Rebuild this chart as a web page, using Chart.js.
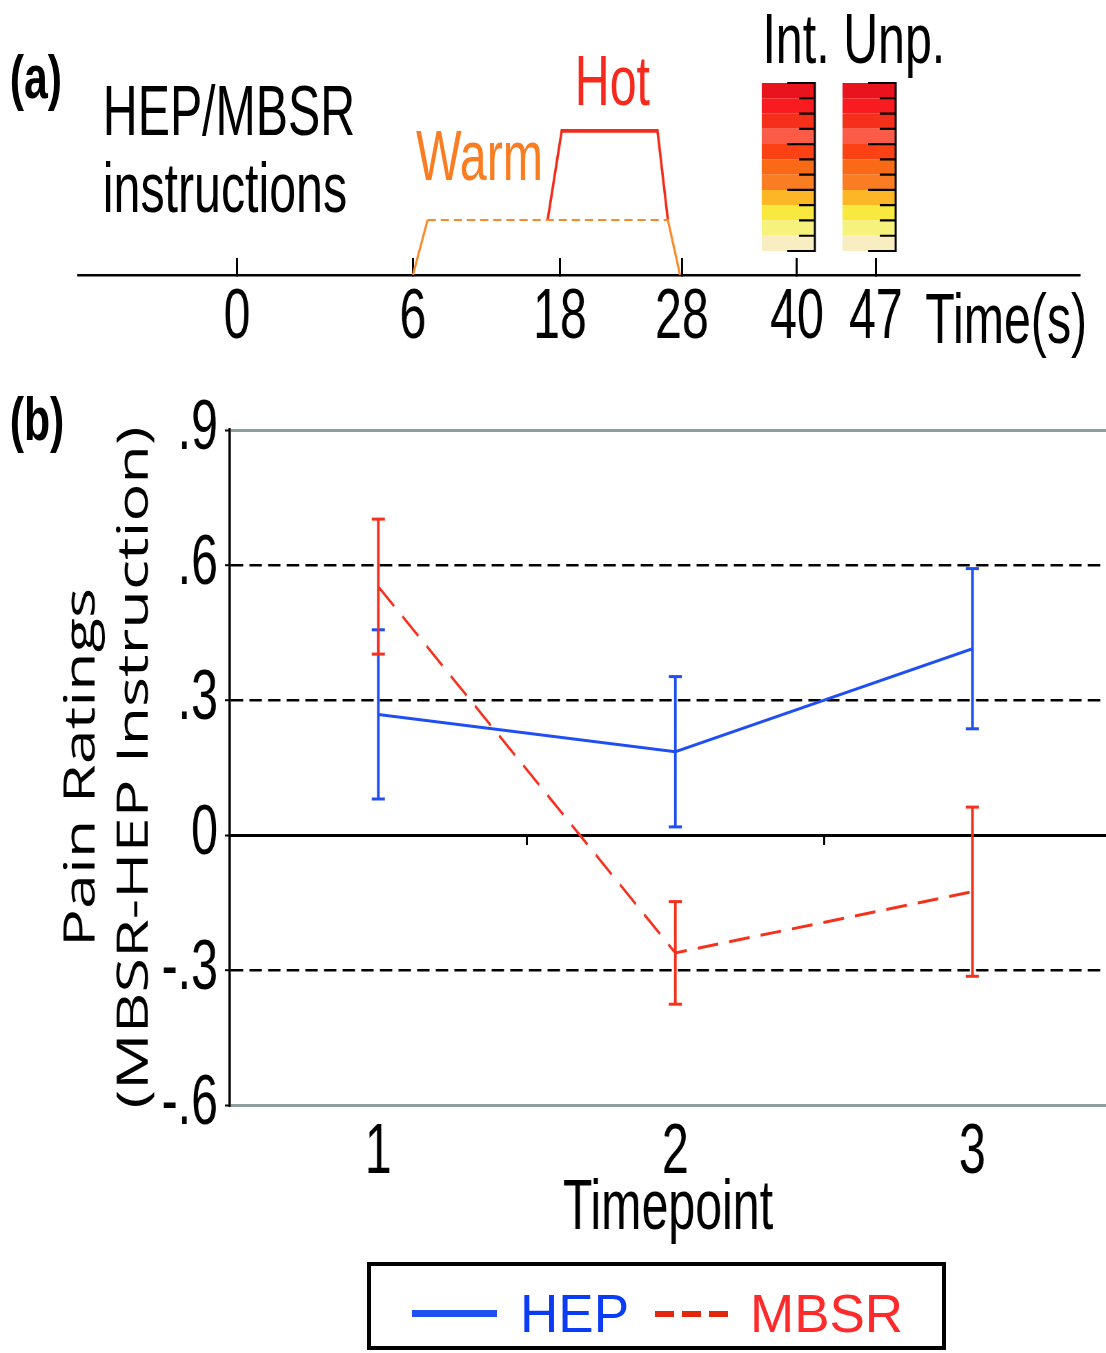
<!DOCTYPE html>
<html>
<head>
<meta charset="utf-8">
<title>HEP vs MBSR pain ratings</title>
<script src="https://cdn.jsdelivr.net/npm/chart.js@4.4.1/dist/chart.umd.min.js"></script>
<style>
  html, body { margin: 0; padding: 0; background: #fff; overflow: hidden; }
  /* the whole figure is drawn wide and squeezed sideways, like the original */
  #page { position: relative; width: 1603px; height: 1353px; transform: scaleX(0.69); transform-origin: 0 0; }
  #page canvas { position: absolute; left: 0; }
  .lbl { position: absolute; font-family: 'Liberation Sans', Arial, sans-serif; font-size: 70px; line-height: 1; white-space: nowrap; color: #000; }
  .panel { font-weight: bold; font-size: 62px; }
  #legend { position: absolute; left: 367px; top: 1262px; width: 579px; height: 88px; box-sizing: border-box; border: 4px solid #000; font-family: 'Liberation Sans', Arial, sans-serif; }
  #legend > * { position: absolute; }
  #legend span { font-size: 53px; line-height: 1; white-space: nowrap; }
</style>
</head>
<body>
<div id="page">
  <canvas id="timeline" width="1603" height="360" style="top:0;width:1603px;height:360px"></canvas>
  <canvas id="ratings" width="1603" height="895" style="top:360px;width:1603px;height:895px"></canvas>

  <div class="lbl panel" style="left:14px;top:46px">(a)</div>
  <div class="lbl panel" style="left:14px;top:388px">(b)</div>
  <div class="lbl" style="left:149px;top:76px">HEP/MBSR</div>
  <div class="lbl" style="left:149px;top:153px">instructions</div>
  <div class="lbl" style="left:603px;top:121px;color:#fa7d22">Warm</div>
  <div class="lbl" style="left:833px;top:46px;color:#f5291c">Hot</div>
  <div class="lbl" style="left:1105px;top:4px">Int.</div>
  <div class="lbl" style="left:1222px;top:4px">Unp.</div>
  <div class="lbl" style="left:1341px;top:284px">Time(s)</div>
</div>

<div id="legend">
  <div style="left:41px;top:44px;width:85px;height:7px;background:#1f50f0"></div>
  <span style="left:149px;top:21px;color:#0a3cf5">HEP</span>
  <div style="left:284px;top:45px;width:73px;height:6px;background:repeating-linear-gradient(90deg,#e3260c 0 19px,transparent 19px 27px)"></div>
  <span style="left:379px;top:21px;color:#ff2b2b">MBSR</span>
</div>

<script>
// ---- panel (a): trial timeline ----
const timeTicks = [0, 6, 18, 28, 40, 47];
// the timeline is schematic: where each tick sits, as a fraction of the axis width
const tickSpots = [0.1587, 0.3343, 0.4810, 0.6028, 0.7176, 0.7964];

const warmTimes = [6, 7.2, 26.85, 27.85];
const warmLevels = [0, 1, 1, 0];
const hotTimes = [17.0, 18.15, 26.0, 26.85];
const hotLevels = [1, 2.62, 2.62, 1];

const ratingTimes = [39.1, 46.4];   // Int. / Unp. rating scales
const ratingColors = ['#f8eec2', '#f6f27c', '#f9e83e', '#fdb726', '#fa7d24', '#f96a17',
                      '#fc4114', '#fb5b47', '#f4301b', '#f81b1f', '#e8131d'];
const ratingMajor = [0, 4, 7, 11];

// ---- panel (b): pain ratings ----
const timepoints = [1, 2, 3];
const hepMean = [0.268, 0.185, 0.414];
const hepErr = [0.188, 0.167, 0.178];
const mbsrMean = [0.552, -0.262, -0.126];
const mbsrErr = [0.150, 0.114, 0.188];
const yTicks = [-0.6, -0.3, 0, 0.3, 0.6, 0.9];
const midTicks = [1.5, 2.5];

const HEP_BLUE = '#1f4ef2';
const MBSR_RED = '#f5301c';

Chart.defaults.font.family = "'Liberation Sans', Arial, sans-serif";
Chart.defaults.color = '#000';

function toSpot(t) {
  let i = 1;
  while (i < timeTicks.length - 1 && t > timeTicks[i]) i++;
  return tickSpots[i - 1] + (t - timeTicks[i - 1]) * (tickSpots[i] - tickSpots[i - 1]) / (timeTicks[i] - timeTicks[i - 1]);
}
function fromSpot(d) {
  let i = 1;
  while (i < tickSpots.length - 1 && d > tickSpots[i]) i++;
  return timeTicks[i - 1] + (d - tickSpots[i - 1]) * (timeTicks[i] - timeTicks[i - 1]) / (tickSpots[i] - tickSpots[i - 1]);
}

class SchematicTimeScale extends Chart.LinearScale {
  getPixelForValue(value) {
    return this.getPixelForDecimal(toSpot(value));
  }
  getValueForPixel(pixel) {
    return fromSpot(this.getDecimalForPixel(pixel));
  }
}
SchematicTimeScale.id = 'schematicTime';
SchematicTimeScale.defaults = Chart.LinearScale.defaults;
Chart.register(SchematicTimeScale);

// black edge + ticks on the right side of each rating scale
const ratingScaleMarks = {
  id: 'ratingScaleMarks',
  afterDatasetsDraw(chart) {
    const yc = chart.scales.yc;
    const ctx = chart.ctx;
    const bars = chart.getDatasetMeta(2).data;
    ctx.save();
    ctx.strokeStyle = '#000';
    bars.forEach(bar => {
      const right = bar.x + bar.width / 2;
      ctx.lineWidth = 3;
      ctx.beginPath();
      ctx.moveTo(right, yc.getPixelForValue(0) + 1);
      ctx.lineTo(right, yc.getPixelForValue(ratingColors.length) - 1);
      ctx.stroke();
      ctx.lineWidth = 2.2;
      ctx.beginPath();
      for (let v = 0; v <= ratingColors.length; v++) {
        const y = yc.getPixelForValue(v);
        ctx.moveTo(right, y);
        ctx.lineTo(right - (ratingMajor.includes(v) ? 40 : 23), y);
      }
      ctx.stroke();
    });
    ctx.restore();
  }
};

new Chart(document.getElementById('timeline'), {
  type: 'line',
  data: {
    datasets: [
      {
        label: 'Warm',
        data: warmTimes.map((t, i) => ({x: t, y: warmLevels[i]})),
        borderColor: '#f98a2c',
        borderWidth: 3.2,
        segment: {
          borderDash: c => c.p0DataIndex === 1 ? [12, 7] : undefined,
          borderWidth: c => c.p0DataIndex === 1 ? 2.2 : undefined
        }
      },
      {
        label: 'Hot',
        data: hotTimes.map((t, i) => ({x: t, y: hotLevels[i]})),
        borderColor: '#f42b1b',
        borderWidth: 3.6
      },
      ...ratingColors.map((c, i) => ({
        type: 'bar',
        label: 'rating ' + i,
        data: ratingTimes.map(t => ({x: t, y: [i, i + 1]})),
        backgroundColor: c,
        yAxisID: 'yc',
        grouped: false,
        maxBarThickness: 77
      }))
    ]
  },
  options: {
    responsive: false,
    devicePixelRatio: 1,
    animation: false,
    events: [],
    elements: { point: { radius: 0 } },
    layout: { autoPadding: false, padding: { left: 113, right: 38, top: 83, bottom: 0 } },
    plugins: { legend: { display: false }, tooltip: { enabled: false } },
    scales: {
      x: {
        type: 'schematicTime',
        min: -10,
        max: 60,
        offset: false,
        afterBuildTicks: s => { s.ticks = timeTicks.map(v => ({value: v})); },
        afterFit: s => { s.height = 85; },
        border: { color: '#000', width: 2.5 },
        grid: { offset: false, drawOnChartArea: false, tickLength: -17, tickWidth: 3, tickColor: '#000' },
        ticks: { color: '#000', font: { size: 70 }, padding: 19, autoSkip: false, maxRotation: 0 }
      },
      y: { display: false, min: 0, max: 3.49 },
      yc: { display: false, min: -1.57, max: 11 }
    }
  },
  plugins: [ratingScaleMarks]
});

function errorBars(mean, err) {
  const pts = [];
  timepoints.forEach((t, i) => {
    pts.push({x: t, y: mean[i] - err[i]}, {x: t, y: mean[i] + err[i]}, {x: t, y: null});
  });
  return pts;
}

function errorSet(label, mean, err, color) {
  return {
    label: label,
    data: errorBars(mean, err),
    borderColor: color,
    borderWidth: 3.8,
    pointStyle: 'line',
    pointRadius: 9.5,
    pointBorderWidth: 3,
    pointBorderColor: color,
    xAxisID: 'x',
    yAxisID: 'y'
  };
}

const dashedAt = [0.6, 0.3, -0.3];
const greyAt = [0.9, -0.6];

new Chart(document.getElementById('ratings'), {
  type: 'line',
  data: {
    datasets: [
      errorSet('MBSR error', mbsrMean, mbsrErr, MBSR_RED),
      {
        label: 'MBSR',
        data: timepoints.map((t, i) => ({x: t, y: mbsrMean[i]})),
        borderColor: MBSR_RED,
        borderWidth: 3,
        borderDash: [30, 16],
        pointRadius: 0,
        xAxisID: 'x',
        yAxisID: 'y'
      },
      errorSet('HEP error', hepMean, hepErr, HEP_BLUE),
      {
        label: 'HEP',
        data: timepoints.map((t, i) => ({x: t, y: hepMean[i]})),
        borderColor: HEP_BLUE,
        borderWidth: 3,
        pointRadius: 0,
        xAxisID: 'x',
        yAxisID: 'y'
      }
    ]
  },
  options: {
    responsive: false,
    devicePixelRatio: 1,
    animation: false,
    events: [],
    layout: { autoPadding: false, padding: { left: 0, right: 0, top: 70, bottom: 0 } },
    plugins: { legend: { display: false }, tooltip: { enabled: false } },
    scales: {
      x: {
        type: 'linear',
        min: 0.5,
        max: 3.45,
        afterBuildTicks: s => { s.ticks = timepoints.map(v => ({value: v})); },
        afterFit: s => { s.height = 150; },
        border: { display: false },
        grid: { display: false, drawTicks: false },
        ticks: { color: '#000', font: { size: 70 }, padding: 7 },
        title: { display: true, text: 'Timepoint', color: '#000', font: { size: 70 }, padding: { top: 0, bottom: 3 } }
      },
      x0: {
        type: 'linear',
        position: { y: 0 },
        min: 0.5,
        max: 3.45,
        afterBuildTicks: s => { s.ticks = midTicks.map(v => ({value: v})); },
        border: { color: '#000', width: 3 },
        grid: { drawOnChartArea: false, tickLength: 8, tickWidth: 3, tickColor: '#000' },
        ticks: { display: false }
      },
      y: {
        min: -0.6,
        max: 0.9,
        afterBuildTicks: s => { s.ticks = yTicks.map(v => ({value: v})); },
        afterFit: s => { s.width = 333; },
        border: {
          color: '#000',
          width: 3.5,
          dash: c => (c.tick && dashedAt.includes(c.tick.value)) ? [18, 9] : []
        },
        grid: {
          color: c => (c.tick && greyAt.includes(c.tick.value)) ? '#8e9e9e' : '#000',
          lineWidth: c => (c.tick && dashedAt.includes(c.tick.value)) ? 2.4 : 3,
          tickColor: '#000',
          tickWidth: 2,
          tickLength: 7
        },
        ticks: {
          color: '#000',
          font: { size: 70 },
          padding: 10,
          callback: v => v === 0 ? '0' : v.toFixed(1).replace('0.', '.')
        },
        title: {
          display: true,
          text: ['Pain Ratings', '(MBSR-HEP Instruction)'],
          color: '#000',
          font: { family: "'Open Sans', 'Noto Sans', sans-serif", size: 63, lineHeight: 1.22 },
          padding: { top: 81, bottom: 0 }
        }
      }
    }
  }
});
</script>
</body>
</html>
